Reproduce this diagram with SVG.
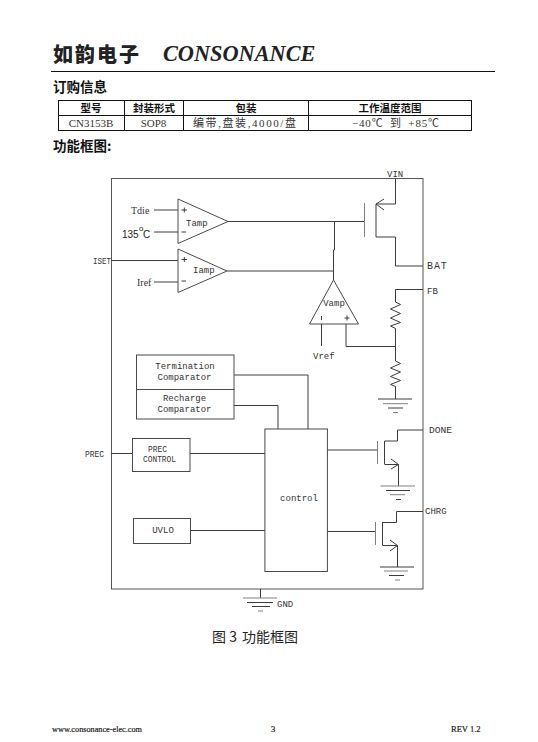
<svg xmlns="http://www.w3.org/2000/svg" width="538" height="742" viewBox="0 0 538 742">
<style>
.l{fill:none;stroke:#3c3c3c;stroke-width:1}
.g{fill:none;stroke:#808080;stroke-width:1}
.b{fill:#fff;stroke:#4a4a4a;stroke-width:1}
.t{stroke:#111;stroke-width:1;fill:none}
text{fill:#222}
.m{font-family:"Liberation Mono",monospace;font-size:9px;fill:#333}
.mc{font-family:"Liberation Mono",monospace;font-size:9px;fill:#333;text-anchor:middle}
.s{font-family:"Liberation Serif",serif;font-size:10px;fill:#333}
.h{font-family:"Noto Sans CJK SC",sans-serif;font-size:13.5px;font-weight:700;fill:#111}
.th{font-family:"Noto Sans CJK SC",sans-serif;font-size:10.5px;font-weight:700;fill:#111;text-anchor:middle}
.td{font-family:"Liberation Serif","Noto Sans CJK SC",serif;font-size:11px;fill:#333;text-anchor:middle}
.f{font-family:"Liberation Serif",serif;font-size:8.500px;fill:#222;stroke:#222;stroke-width:.2}
</style>
<rect width="538" height="742" fill="#fff"/>
<g id="header">
<text x="53" y="62" font-family="Noto Sans CJK SC,sans-serif" font-size="20" font-weight="900" letter-spacing="2" fill="#111">如韵电子</text>
<text x="163" y="61" font-family="Liberation Serif,serif" font-size="22.300" font-weight="700" font-style="italic" fill="#111">CONSONANCE</text>
<path d="M51 71.500H495" class="t"/>
<text x="53" y="92" class="h">订购信息</text>
<text x="53" y="151" class="h">功能框图:</text>
</g>
<g id="table">
<rect x="58.500" y="100.500" width="413" height="30" class="t"/>
<path d="M58.500 115.500H471.500M124.500 100.500V130.500M183.500 100.500V130.500M308.500 100.500V130.500" class="t"/>
<text x="91" y="112" class="th">型号</text>
<text x="154" y="112" class="th">封装形式</text>
<text x="246" y="112" class="th">包装</text>
<text x="390" y="112" class="th">工作温度范围</text>
<text x="91" y="127" class="td">CN3153B</text>
<text x="153.500" y="127" class="td">SOP8</text>
<text x="244.500" y="127" class="td" textLength="103">编带,盘装,4000/盘</text>
<text x="395.500" y="127" class="td" textLength="87" style="word-spacing:3px">−40℃ 到 +85℃</text>
</g>
<g id="frame"><rect x="111.500" y="178.500" width="311.500" height="410.500" fill="none" stroke="#555" stroke-width="1"/></g>
<g id="connectors">
<path class="l" d="M154 210H178M154 232H178M111 260.500H178M154 282H178"/>
<path class="l" d="M228 221.500H364M334.500 221.500V250H333.500V280M227 271H333.500"/>
<path class="l" d="M395.500 178V204H376V237H395.500V266H423"/>
<path class="l" d="M384 199L376 204L384 210"/>
<path class="l" d="M321.500 324V346M346 324V346.500H395.500"/>
<path class="l" d="M423 289.500H395.500V302L400.500 304.500L390.500 309L400.500 313.500L390.500 318L400.500 322.500L390.500 326L395.500 328.500V361L400.500 363.500L390.500 368L400.500 372L390.500 376.500L400.500 380.500L390.500 384.500L395.500 386.500V399"/>
<path class="l" d="M234 375H308V429M234 405.500H278V429"/>
<path class="l" d="M111 453.500H132.500M190 453.500H265M191 530.500H265"/>
<path class="l" d="M327 450H377M384.500 441V464M397.500 430H423M397.500 430V441H384.500M384.500 464.500H398.500V486M391 459L398.500 464.500L391 469"/>
<path class="l" d="M327 531.500H375.500M382.500 522V545M396.500 511.500H423M396.500 511.500V522.500H382.500M382.500 545.500H397.500V567M390 540L397.500 545.500L390 551"/>
<path class="l" d="M260.500 589V598"/>
<path class="g" d="M377.500 441V464M375.500 522V545M364.500 203V237"/>
</g>
<g id="tamp"><path class="b" d="M178 199L228 221.500L178 243.500Z"/><text x="186" y="226" class="m">Tamp</text><path class="l" d="M181.500 210H187M184.300 207.500V212.500M181.500 232H186"/></g>
<g id="iamp"><path class="b" d="M178 249L227 271L178 292.500Z"/><text x="193" y="273" class="m">Iamp</text><path class="l" d="M181.500 259.500H187M184.300 257V262M181.500 281H186"/></g>
<g id="vamp"><path class="b" d="M333.500 280L358.500 324H309.500Z"/><text x="334" y="306" class="mc">Vamp</text><path class="l" d="M321.500 316V320M344.500 318H349.500M347 315.500V320.500"/></g>
<g id="labels">
<text x="131" y="214" class="s">Tdie</text>
<text x="122" y="238" font-family="Liberation Sans,sans-serif" font-size="10" fill="#333">135</text>
<text x="139" y="231" font-family="Liberation Sans,sans-serif" font-size="8" fill="#333">o</text>
<text x="143" y="238" font-family="Liberation Sans,sans-serif" font-size="10" fill="#333">C</text>
<text x="93" y="264" class="m" textLength="18" lengthAdjust="spacingAndGlyphs">ISET</text>
<text x="137" y="286" class="s">Iref</text>
<text x="387" y="177" class="m">VIN</text>
<text x="427" y="269" class="m" style="font-size:10px;letter-spacing:.9px">BAT</text>
<text x="427" y="294" class="m">FB</text>
<text x="313" y="359" class="m">Vref</text>
<text x="85" y="457" class="m" textLength="19" lengthAdjust="spacingAndGlyphs">PREC</text>
<text x="429" y="433" class="m" style="font-size:9.600px">DONE</text>
<text x="425" y="514" class="m">CHRG</text>
<text x="277" y="607" class="m">GND</text>
</g>
<g id="termination"><rect class="b" x="136.500" y="355" width="97.500" height="34.500"/><text x="185" y="369" class="mc">Termination</text><text x="184.500" y="380" class="mc">Comparator</text></g>
<g id="recharge"><rect class="b" x="136.500" y="389.500" width="97.500" height="29.500"/><text x="184.500" y="401" class="mc">Recharge</text><text x="184.500" y="412" class="mc">Comparator</text></g>
<g id="prec"><rect class="b" x="132.500" y="438.500" width="57.500" height="33"/><text x="148" y="452" class="m" textLength="19" lengthAdjust="spacingAndGlyphs">PREC</text><text x="143" y="461.500" class="m" textLength="33" lengthAdjust="spacingAndGlyphs">CONTROL</text></g>
<g id="uvlo"><rect class="b" x="133.500" y="518.500" width="57" height="25"/><text x="163" y="533" class="mc">UVLO</text></g>
<g id="control"><rect class="b" x="264.900" y="429" width="62.500" height="142.500"/><text x="299" y="501" class="mc">control</text></g>
<g id="gnd1"><path class="l" d="M378 399H412M388 408H403"/><path class="g" d="M383 403.700H408M393 412.500H398"/></g>
<g id="gnd2"><path class="g" d="M380.500 486H415M390 494.700H405"/><path class="l" d="M386 490.500H410M396 499.500H401"/></g>
<g id="gnd3"><path class="l" d="M380 567H414M389 575.500H404"/><path class="g" d="M384 571H408M395 580H400"/></g>
<g id="gnd4"><path class="g" d="M243 598H277"/><path class="l" d="M247 602.500H273M252 606.500H270"/><path class="g" d="M258 611H263"/></g>
<g id="caption"><text x="212" y="642" font-family="Noto Sans CJK SC,sans-serif" font-size="14" fill="#333">图 3 <tspan dx="2">功能框图</tspan></text></g>
<g id="footer">
<text x="52" y="732" class="f" textLength="90" lengthAdjust="spacingAndGlyphs">www.consonance-elec.com</text>
<text x="271" y="732" class="f">3</text>
<text x="451" y="732" class="f">REV 1.2</text>
</g>
</svg>
